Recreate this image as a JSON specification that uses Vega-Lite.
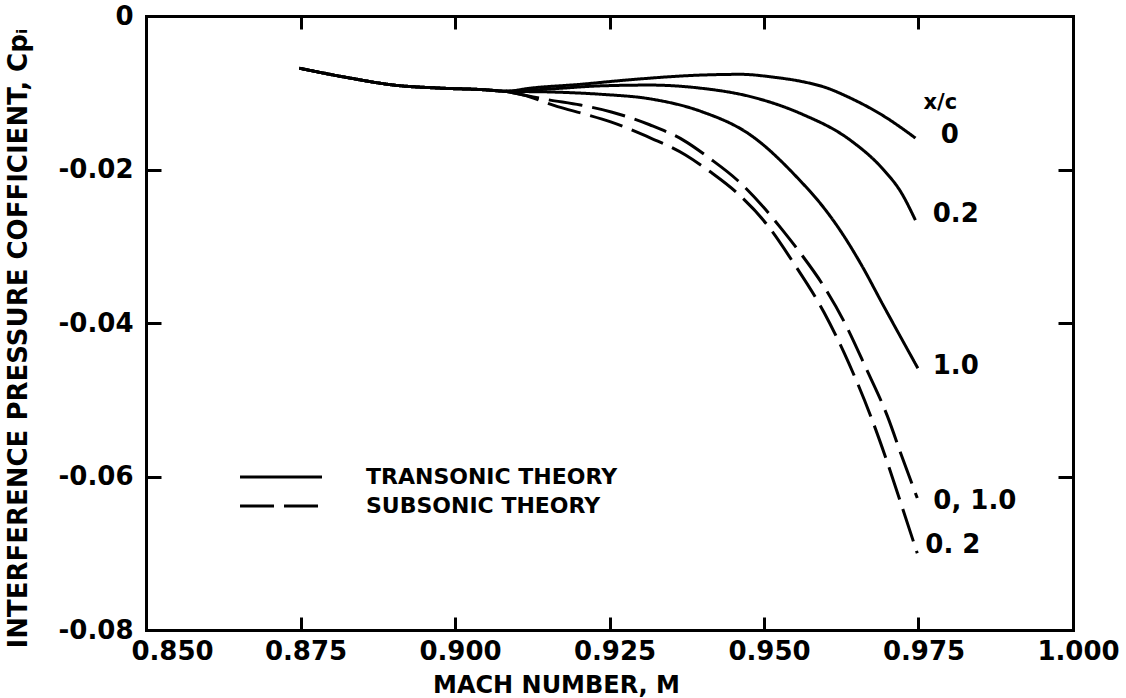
{
  "$schema": "https://vega.github.io/schema/vega-lite/v6.json",
  "width": 927,
  "height": 614,
  "autosize": "none",
  "padding": {"left": 146, "top": 16, "right": 53, "bottom": 68},
  "background": "white",
  "datasets": {
    "curves": [
      {"m": 0.8748, "cp": -0.0068, "curve": "T0", "theory": "TRANSONIC THEORY"},
      {"m": 0.8831, "cp": -0.0081, "curve": "T0", "theory": "TRANSONIC THEORY"},
      {"m": 0.8901, "cp": -0.0090, "curve": "T0", "theory": "TRANSONIC THEORY"},
      {"m": 0.8977, "cp": -0.0094, "curve": "T0", "theory": "TRANSONIC THEORY"},
      {"m": 0.9046, "cp": -0.0096, "curve": "T0", "theory": "TRANSONIC THEORY"},
      {"m": 0.9082, "cp": -0.0098, "curve": "T0", "theory": "TRANSONIC THEORY"},
      {"m": 0.9122, "cp": -0.0094, "curve": "T0", "theory": "TRANSONIC THEORY"},
      {"m": 0.9203, "cp": -0.0089, "curve": "T0", "theory": "TRANSONIC THEORY"},
      {"m": 0.9284, "cp": -0.0083, "curve": "T0", "theory": "TRANSONIC THEORY"},
      {"m": 0.9397, "cp": -0.0077, "curve": "T0", "theory": "TRANSONIC THEORY"},
      {"m": 0.9462, "cp": -0.0076, "curve": "T0", "theory": "TRANSONIC THEORY"},
      {"m": 0.9518, "cp": -0.0080, "curve": "T0", "theory": "TRANSONIC THEORY"},
      {"m": 0.9559, "cp": -0.0085, "curve": "T0", "theory": "TRANSONIC THEORY"},
      {"m": 0.9599, "cp": -0.0093, "curve": "T0", "theory": "TRANSONIC THEORY"},
      {"m": 0.9640, "cp": -0.0107, "curve": "T0", "theory": "TRANSONIC THEORY"},
      {"m": 0.9693, "cp": -0.0130, "curve": "T0", "theory": "TRANSONIC THEORY"},
      {"m": 0.9745, "cp": -0.0159, "curve": "T0", "theory": "TRANSONIC THEORY"},

      {"m": 0.8748, "cp": -0.0068, "curve": "T0.2", "theory": "TRANSONIC THEORY"},
      {"m": 0.8831, "cp": -0.0081, "curve": "T0.2", "theory": "TRANSONIC THEORY"},
      {"m": 0.8901, "cp": -0.0090, "curve": "T0.2", "theory": "TRANSONIC THEORY"},
      {"m": 0.8977, "cp": -0.0094, "curve": "T0.2", "theory": "TRANSONIC THEORY"},
      {"m": 0.9046, "cp": -0.0096, "curve": "T0.2", "theory": "TRANSONIC THEORY"},
      {"m": 0.9082, "cp": -0.0098, "curve": "T0.2", "theory": "TRANSONIC THEORY"},
      {"m": 0.9155, "cp": -0.0095, "curve": "T0.2", "theory": "TRANSONIC THEORY"},
      {"m": 0.9236, "cp": -0.0091, "curve": "T0.2", "theory": "TRANSONIC THEORY"},
      {"m": 0.9316, "cp": -0.0090, "curve": "T0.2", "theory": "TRANSONIC THEORY"},
      {"m": 0.9397, "cp": -0.0094, "curve": "T0.2", "theory": "TRANSONIC THEORY"},
      {"m": 0.9478, "cp": -0.0105, "curve": "T0.2", "theory": "TRANSONIC THEORY"},
      {"m": 0.9559, "cp": -0.0127, "curve": "T0.2", "theory": "TRANSONIC THEORY"},
      {"m": 0.9640, "cp": -0.0162, "curve": "T0.2", "theory": "TRANSONIC THEORY"},
      {"m": 0.9693, "cp": -0.0200, "curve": "T0.2", "theory": "TRANSONIC THEORY"},
      {"m": 0.9722, "cp": -0.0230, "curve": "T0.2", "theory": "TRANSONIC THEORY"},
      {"m": 0.9745, "cp": -0.0266, "curve": "T0.2", "theory": "TRANSONIC THEORY"},

      {"m": 0.8748, "cp": -0.0068, "curve": "T1.0", "theory": "TRANSONIC THEORY"},
      {"m": 0.8831, "cp": -0.0081, "curve": "T1.0", "theory": "TRANSONIC THEORY"},
      {"m": 0.8901, "cp": -0.0090, "curve": "T1.0", "theory": "TRANSONIC THEORY"},
      {"m": 0.8977, "cp": -0.0094, "curve": "T1.0", "theory": "TRANSONIC THEORY"},
      {"m": 0.9046, "cp": -0.0096, "curve": "T1.0", "theory": "TRANSONIC THEORY"},
      {"m": 0.9082, "cp": -0.0098, "curve": "T1.0", "theory": "TRANSONIC THEORY"},
      {"m": 0.9155, "cp": -0.0099, "curve": "T1.0", "theory": "TRANSONIC THEORY"},
      {"m": 0.9236, "cp": -0.0102, "curve": "T1.0", "theory": "TRANSONIC THEORY"},
      {"m": 0.9316, "cp": -0.0108, "curve": "T1.0", "theory": "TRANSONIC THEORY"},
      {"m": 0.9397, "cp": -0.0124, "curve": "T1.0", "theory": "TRANSONIC THEORY"},
      {"m": 0.9478, "cp": -0.0155, "curve": "T1.0", "theory": "TRANSONIC THEORY"},
      {"m": 0.9559, "cp": -0.0215, "curve": "T1.0", "theory": "TRANSONIC THEORY"},
      {"m": 0.9591, "cp": -0.0244, "curve": "T1.0", "theory": "TRANSONIC THEORY"},
      {"m": 0.9623, "cp": -0.0279, "curve": "T1.0", "theory": "TRANSONIC THEORY"},
      {"m": 0.9656, "cp": -0.0322, "curve": "T1.0", "theory": "TRANSONIC THEORY"},
      {"m": 0.9693, "cp": -0.0377, "curve": "T1.0", "theory": "TRANSONIC THEORY"},
      {"m": 0.9749, "cp": -0.0459, "curve": "T1.0", "theory": "TRANSONIC THEORY"},

      {"m": 0.9082, "cp": -0.0098, "curve": "S0,1.0", "theory": "SUBSONIC THEORY"},
      {"m": 0.9150, "cp": -0.0109, "curve": "S0,1.0", "theory": "SUBSONIC THEORY"},
      {"m": 0.9203, "cp": -0.0116, "curve": "S0,1.0", "theory": "SUBSONIC THEORY"},
      {"m": 0.9253, "cp": -0.0125, "curve": "S0,1.0", "theory": "SUBSONIC THEORY"},
      {"m": 0.9316, "cp": -0.0142, "curve": "S0,1.0", "theory": "SUBSONIC THEORY"},
      {"m": 0.9370, "cp": -0.0162, "curve": "S0,1.0", "theory": "SUBSONIC THEORY"},
      {"m": 0.9413, "cp": -0.0186, "curve": "S0,1.0", "theory": "SUBSONIC THEORY"},
      {"m": 0.9457, "cp": -0.0214, "curve": "S0,1.0", "theory": "SUBSONIC THEORY"},
      {"m": 0.9499, "cp": -0.0249, "curve": "S0,1.0", "theory": "SUBSONIC THEORY"},
      {"m": 0.9530, "cp": -0.0279, "curve": "S0,1.0", "theory": "SUBSONIC THEORY"},
      {"m": 0.9559, "cp": -0.0309, "curve": "S0,1.0", "theory": "SUBSONIC THEORY"},
      {"m": 0.9595, "cp": -0.0350, "curve": "S0,1.0", "theory": "SUBSONIC THEORY"},
      {"m": 0.9632, "cp": -0.0402, "curve": "S0,1.0", "theory": "SUBSONIC THEORY"},
      {"m": 0.9664, "cp": -0.0457, "curve": "S0,1.0", "theory": "SUBSONIC THEORY"},
      {"m": 0.9700, "cp": -0.0522, "curve": "S0,1.0", "theory": "SUBSONIC THEORY"},
      {"m": 0.9724, "cp": -0.0576, "curve": "S0,1.0", "theory": "SUBSONIC THEORY"},
      {"m": 0.9748, "cp": -0.0628, "curve": "S0,1.0", "theory": "SUBSONIC THEORY"},

      {"m": 0.9082, "cp": -0.0098, "curve": "S0.2", "theory": "SUBSONIC THEORY"},
      {"m": 0.9111, "cp": -0.0103, "curve": "S0.2", "theory": "SUBSONIC THEORY"},
      {"m": 0.9166, "cp": -0.0118, "curve": "S0.2", "theory": "SUBSONIC THEORY"},
      {"m": 0.9211, "cp": -0.0128, "curve": "S0.2", "theory": "SUBSONIC THEORY"},
      {"m": 0.9252, "cp": -0.0138, "curve": "S0.2", "theory": "SUBSONIC THEORY"},
      {"m": 0.9305, "cp": -0.0155, "curve": "S0.2", "theory": "SUBSONIC THEORY"},
      {"m": 0.9373, "cp": -0.0181, "curve": "S0.2", "theory": "SUBSONIC THEORY"},
      {"m": 0.9413, "cp": -0.0203, "curve": "S0.2", "theory": "SUBSONIC THEORY"},
      {"m": 0.9457, "cp": -0.0231, "curve": "S0.2", "theory": "SUBSONIC THEORY"},
      {"m": 0.9503, "cp": -0.0270, "curve": "S0.2", "theory": "SUBSONIC THEORY"},
      {"m": 0.9548, "cp": -0.0322, "curve": "S0.2", "theory": "SUBSONIC THEORY"},
      {"m": 0.9597, "cp": -0.0386, "curve": "S0.2", "theory": "SUBSONIC THEORY"},
      {"m": 0.9637, "cp": -0.0452, "curve": "S0.2", "theory": "SUBSONIC THEORY"},
      {"m": 0.9673, "cp": -0.0522, "curve": "S0.2", "theory": "SUBSONIC THEORY"},
      {"m": 0.9701, "cp": -0.0585, "curve": "S0.2", "theory": "SUBSONIC THEORY"},
      {"m": 0.9726, "cp": -0.0646, "curve": "S0.2", "theory": "SUBSONIC THEORY"},
      {"m": 0.9748, "cp": -0.0700, "curve": "S0.2", "theory": "SUBSONIC THEORY"}
    ],
    "labels": [
      {"m": 0.9758, "cp": -0.0114, "label": "x/c"},
      {"m": 0.9786, "cp": -0.0155, "label": "0"},
      {"m": 0.9773, "cp": -0.0258, "label": "0.2"},
      {"m": 0.9773, "cp": -0.0456, "label": "1.0"},
      {"m": 0.9774, "cp": -0.0632, "label": "0, 1.0"},
      {"m": 0.9761, "cp": -0.0689, "label": "0. 2"}
    ]
  },
  "layer": [
    {
      "data": {"name": "curves"},
      "mark": {"type": "line", "color": "black", "strokeWidth": 3, "interpolate": "monotone", "strokeCap": "butt"},
      "encoding": {
        "x": {
          "field": "m", "type": "quantitative",
          "scale": {"domain": [0.85, 1.0], "nice": false, "zero": false},
          "axis": {
            "orient": "bottom",
            "values": [0.85, 0.875, 0.9, 0.925, 0.95, 0.975, 1.0],
            "format": ".3f",
            "tickSize": -13,
            "labelPadding": 21,
            "labelOffset": {"condition": {"test": "datum.value < 0.86", "value": 26}, "value": 5},
            "title": "MACH NUMBER, M",
            "titleFontSize": 24,
            "titleX": 410,
            "titleY": 55,
            "titleAlign": "center",
            "titleBaseline": "middle"
          }
        },
        "y": {
          "field": "cp", "type": "quantitative",
          "scale": {"domain": [-0.08, 0], "nice": false, "zero": false},
          "axis": {
            "orient": "left",
            "values": [0, -0.02, -0.04, -0.06, -0.08],
            "labelExpr": "datum.value == 0 ? '0' : '-0.0' + toString(round(-datum.value * 100))",
            "tickSize": -15,
            "labelPadding": 28,
            "title": "INTERFERENCE PRESSURE COFFICIENT, Cpᵢ",
            "titleFontSize": 26,
            "titleAngle": -90,
            "titleX": -128,
            "titleY": 322,
            "titleAlign": "center",
            "titleBaseline": "middle"
          }
        },
        "detail": {"field": "curve", "type": "nominal"},
        "strokeDash": {
          "field": "theory", "type": "nominal",
          "scale": {"domain": ["TRANSONIC THEORY", "SUBSONIC THEORY"], "range": [[1, 0], [34, 10]]},
          "legend": {
            "title": null,
            "orient": "none",
            "legendX": 123,
            "legendY": 449,
            "padding": 0,
            "symbolType": "M-4,0H4",
            "symbolSize": 420,
            "symbolStrokeWidth": 3,
            "symbolStrokeColor": "black",
            "symbolFillColor": "transparent",
            "labelFont": "DejaVu Sans",
            "labelFontWeight": "bold",
            "labelFontSize": 22,
            "labelColor": "black",
            "labelOffset": 73,
            "rowPadding": 6,
            "labelLimit": 400
          }
        }
      }
    },
    {
      "data": {"name": "labels"},
      "mark": {"type": "text", "align": "left", "baseline": "middle", "font": "DejaVu Sans", "fontWeight": "bold", "color": "black"},
      "encoding": {
        "x": {
          "field": "m", "type": "quantitative",
          "axis": {"orient": "top", "values": [0.85, 0.875, 0.9, 0.925, 0.95, 0.975, 1.0], "labels": false, "title": null, "tickSize": -13}
        },
        "y": {
          "field": "cp", "type": "quantitative",
          "axis": {"orient": "right", "values": [0, -0.02, -0.04, -0.06, -0.08], "labels": false, "title": null, "tickSize": -15}
        },
        "text": {"field": "label", "type": "nominal"},
        "size": {"condition": {"test": "datum.label == 'x/c'", "value": 21}, "value": 26}
      }
    }
  ],
  "resolve": {"axis": {"x": "independent", "y": "independent"}},
  "config": {
    "view": {"stroke": null},
    "axis": {
      "grid": false,
      "domainColor": "black",
      "domainWidth": 3,
      "domainCap": "square",
      "tickColor": "black",
      "tickWidth": 3,
      "labelFont": "DejaVu Sans",
      "labelFontWeight": "bold",
      "labelFontSize": 26,
      "labelColor": "black",
      "labelFlush": false,
      "labelOverlap": false,
      "titleFont": "DejaVu Sans",
      "titleFontWeight": "bold",
      "titleColor": "black"
    }
  }
}
